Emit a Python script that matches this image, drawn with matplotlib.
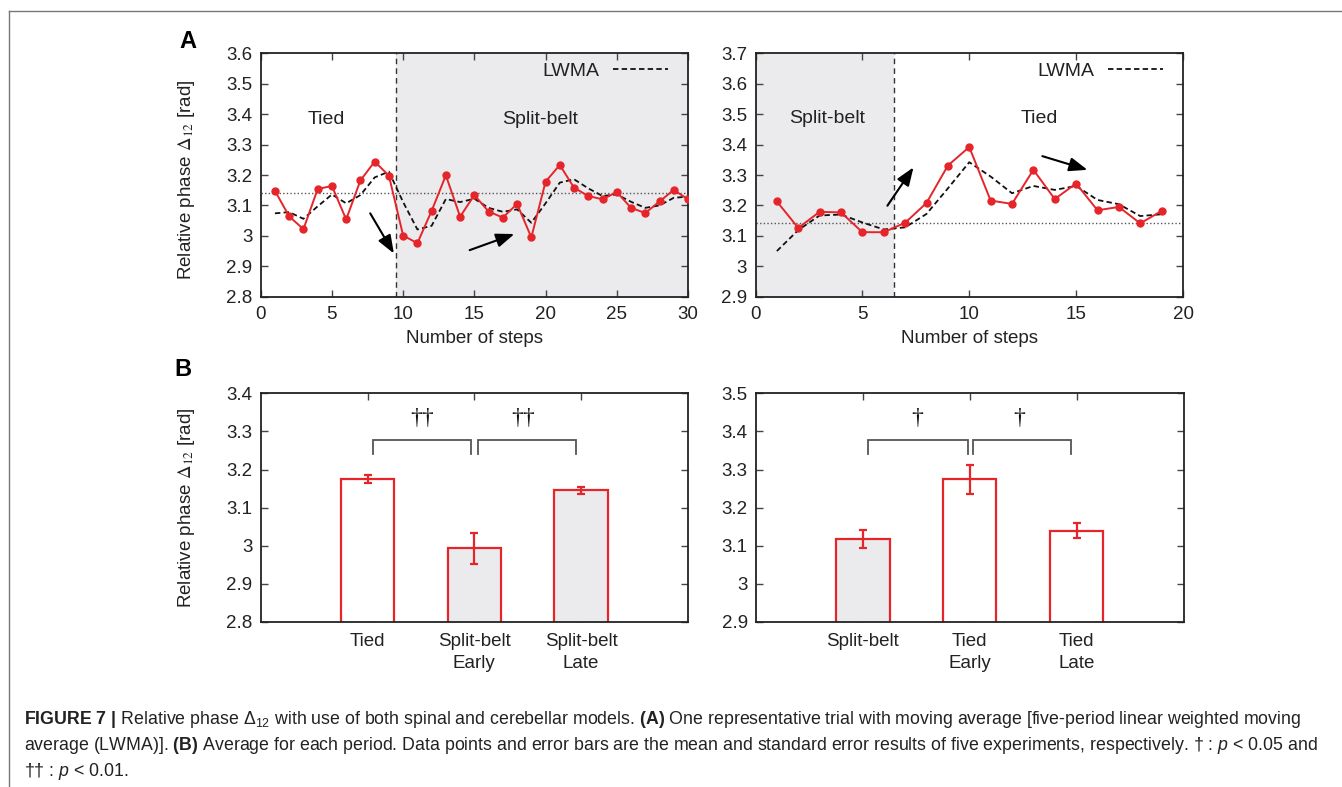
import matplotlib
matplotlib.use("Agg")
import matplotlib.pyplot as plt
from matplotlib.lines import Line2D
import numpy as np

plt.rcParams['font.family'] = ['Liberation Sans', 'DejaVu Sans']
plt.rcParams['mathtext.rm'] = 'Liberation Sans'
plt.rcParams['mathtext.it'] = 'Liberation Sans:italic'
plt.rcParams['mathtext.bf'] = 'Liberation Sans:bold'

# ---------------- data ----------------
steps_a = list(range(1, 31))
phase_a = [3.148, 3.064, 3.022, 3.154, 3.164, 3.054, 3.182, 3.244, 3.198, 3.001,
           2.976, 3.082, 3.199, 3.063, 3.134, 3.080, 3.060, 3.105, 2.995, 3.178,
           3.233, 3.158, 3.131, 3.120, 3.144, 3.092, 3.075, 3.113, 3.151, 3.120]
lwma_a = [3.074, 3.078, 3.056, 3.097, 3.136, 3.107, 3.134, 3.192, 3.211, 3.111,
          3.021, 3.033, 3.121, 3.111, 3.122, 3.092, 3.079, 3.087, 3.043, 3.107,
          3.175, 3.186, 3.156, 3.131, 3.136, 3.112, 3.092, 3.100, 3.125, 3.129]

steps_b = list(range(1, 20))
phase_b = [3.213, 3.126, 3.179, 3.177, 3.112, 3.112, 3.143, 3.208, 3.331, 3.392,
           3.216, 3.205, 3.317, 3.221, 3.272, 3.184, 3.195, 3.141, 3.182]
lwma_b = [3.050, 3.119, 3.167, 3.170, 3.144, 3.121, 3.128, 3.172, 3.256, 3.342,
          3.295, 3.240, 3.264, 3.251, 3.264, 3.218, 3.204, 3.165, 3.171]

switch_a = 9.5
switch_b = 6.5
ref_phase = np.pi

cats_c = ["Tied", "Split-belt\nEarly", "Split-belt\nLate"]
mean_c = [3.175, 2.993, 3.145]
se_c = [0.011, 0.041, 0.008]
split_c = [False, True, True]

cats_d = ["Split-belt", "Tied\nEarly", "Tied\nLate"]
mean_d = [3.118, 3.274, 3.140]
se_d = [0.024, 0.039, 0.019]
split_d = [True, False, False]

# ---------------- style ----------------
RED = '#e5252a'
SHADE = '#ebebee'
W, H = 1342, 787
fig = plt.figure(figsize=(W / 100, H / 100), dpi=100)

def fx(px):
    return px / W

def fy(py):
    return 1 - py / H

def make_ax(l, r, t, b):
    return fig.add_axes([fx(l), fy(b), fx(r) - fx(l), fy(t) - fy(b)])

ax1 = make_ax(260.7, 688, 53.3, 296.7)
ax2 = make_ax(755.5, 1183, 53.3, 296.7)
ax3 = make_ax(260.7, 688, 393.3, 622)
ax4 = make_ax(756, 1183.5, 393.3, 622)

TICKFS = 13.5
LABFS = 13.5
TXTFS = 14

def style(ax):
    for s in ax.spines.values():
        s.set_linewidth(1.3)
        s.set_color('#222222')
    ax.tick_params(direction='in', top=True, right=True, length=5, width=1,
                   color='#444444', labelsize=TICKFS, pad=6, labelcolor='#222222')

def ylab(ax, ycen=0.5):
    ax.set_ylabel(r'Relative phase $\mathit{\Delta}_{12}$ [rad]', fontsize=LABFS,
                  math_fontfamily='stix', color='#222222')
    ax.yaxis.set_label_coords(-0.150, ycen)

def line_panel(ax, steps, phase, lwma, switch, xmax, ylim, shade_right, texts, arrows):
    style(ax)
    if shade_right:
        ax.axvspan(switch, xmax, color=SHADE, zorder=0, lw=0)
    else:
        ax.axvspan(0, switch, color=SHADE, zorder=0, lw=0)
    ax.axvline(switch, color='#333333', lw=1, ls=(0, (4, 3)), zorder=1)
    ax.axhline(ref_phase, color='#555555', lw=1, ls=(0, (1, 1.6)), zorder=1)
    ax.plot(steps, lwma, color='#111111', lw=1.3, ls=(0, (3, 1.8)), zorder=2, label='LWMA')
    ax.plot(steps, phase, color=RED, lw=1.4, marker='o', ms=5.0, zorder=3)
    ax.set_xlim(0, xmax)
    ax.set_ylim(*ylim)
    yt = np.round(np.arange(ylim[0], ylim[1] + 0.001, 0.1), 1)
    ax.set_yticks(yt)
    ax.set_yticklabels([('%g' % v) for v in yt])
    ax.set_xticks(np.arange(0, xmax + 1, 5))
    ax.tick_params(axis='x', pad=7)
    ax.set_xlabel('Number of steps', fontsize=LABFS, labelpad=5, color='#222222')
    for (tx, ty, s) in texts:
        ax.text(tx, ty, s, fontsize=TXTFS, ha='center', va='center', color='#222222')
    for (x0, y0, x1, y1) in arrows:
        ax.annotate('', xy=(x1, y1), xytext=(x0, y0),
                    arrowprops=dict(arrowstyle='-|>,head_length=1.1,head_width=0.42',
                                    color='black', lw=1.5, shrinkA=0, shrinkB=0))
    leg = ax.legend(loc='center right', bbox_to_anchor=(0.953, 0.926), frameon=False,
                    markerfirst=False, handlelength=2.8, handletextpad=0.7,
                    fontsize=TXTFS, borderpad=0, borderaxespad=0)
    for t in leg.get_texts():
        t.set_color('#222222')

line_panel(ax1, steps_a, phase_a, lwma_a, switch_a, 30, (2.8, 3.6), True,
           [(4.6, 3.383, 'Tied'), (19.6, 3.383, 'Split-belt')],
           [(7.69, 3.074, 9.35, 2.942), (14.67, 2.953, 17.81, 3.006)])
ylab(ax1, 0.48)
line_panel(ax2, steps_b, phase_b, lwma_b, switch_b, 20, (2.9, 3.7), False,
           [(3.35, 3.485, 'Split-belt'), (13.3, 3.485, 'Tied')],
           [(6.17, 3.199, 7.39, 3.325), (13.42, 3.362, 15.53, 3.317)])

def bar_panel(ax, cats, means, ses, split, ylim, brackets, marks):
    style(ax)
    x = np.arange(1, len(cats) + 1)
    fills = [SHADE if s else 'white' for s in split]
    ax.bar(x, means, width=0.5, color=fills, edgecolor=RED, linewidth=1.6, zorder=2)
    ax.errorbar(x, means, yerr=ses, fmt='none', ecolor=RED, elinewidth=1.6,
                capsize=3, capthick=1.6, zorder=3)
    ax.set_xlim(0, 4)
    ax.set_ylim(*ylim)
    yt = np.round(np.arange(ylim[0], ylim[1] + 0.001, 0.1), 1)
    ax.set_yticks(yt)
    ax.set_yticklabels([('%g' % v) for v in yt])
    ax.set_xticks(x)
    ax.set_xticklabels(cats, fontsize=TICKFS, linespacing=1.35)
    ax.tick_params(axis='x', pad=8)
    for (xa, xb, ytop, ybot) in brackets:
        ax.plot([xa, xa, xb, xb], [ybot, ytop, ytop, ybot], color='#555555', lw=1.3,
                zorder=2, solid_joinstyle='miter')
    for (xm, ym, s) in marks:
        ax.text(xm, ym, s, fontsize=17, ha='center', va='center',
                family=['Liberation Serif', 'DejaVu Serif'], color='#111111')

bar_panel(ax3, cats_c, mean_c, se_c, split_c, (2.8, 3.4),
          [(1.05, 1.97, 3.278, 3.241), (2.03, 2.95, 3.278, 3.241)],
          [(1.51, 3.334, '\u2020\u2020'), (2.46, 3.334, '\u2020\u2020')])
ylab(ax3)
bar_panel(ax4, cats_d, mean_d, se_d, split_d, (2.9, 3.5),
          [(1.05, 1.98, 3.378, 3.341), (2.03, 2.95, 3.378, 3.341)],
          [(1.51, 3.434, '\u2020'), (2.46, 3.434, '\u2020')])

# panel letters
fig.text(fx(188), fy(42), 'A', fontsize=17, fontweight='bold', ha='center', va='center')
fig.text(fx(183), fy(369), 'B', fontsize=17, fontweight='bold', ha='center', va='center')

# page frame
fig.add_artist(Line2D([fx(9), 1], [fy(10.5), fy(10.5)], transform=fig.transFigure,
                      color='#777777', lw=1))
fig.add_artist(Line2D([fx(9), fx(9)], [fy(10.5), 0], transform=fig.transFigure,
                      color='#777777', lw=1))

# caption
cap = [
    r'$\mathbf{FIGURE\ 7\ |}$ Relative phase $\Delta_{12}$ with use of both spinal and cerebellar models. '
    r'$\mathbf{(A)}$ One representative trial with moving average [five-period linear weighted moving',
    r'average (LWMA)]. $\mathbf{(B)}$ Average for each period. Data points and error bars are the mean and '
    r'standard error results of five experiments, respectively. ' + '\u2020' + r' : $\mathit{p}$ < 0.05 and',
    '\u2020\u2020' + r' : $\mathit{p}$ < 0.01.',
]
for i, line in enumerate(cap):
    fig.text(fx(24), fy(719 + 26 * i), line, fontsize=12.8, ha='left', va='center',
             math_fontfamily='custom', color='#222222')

fig.savefig('out.png', dpi=100)
